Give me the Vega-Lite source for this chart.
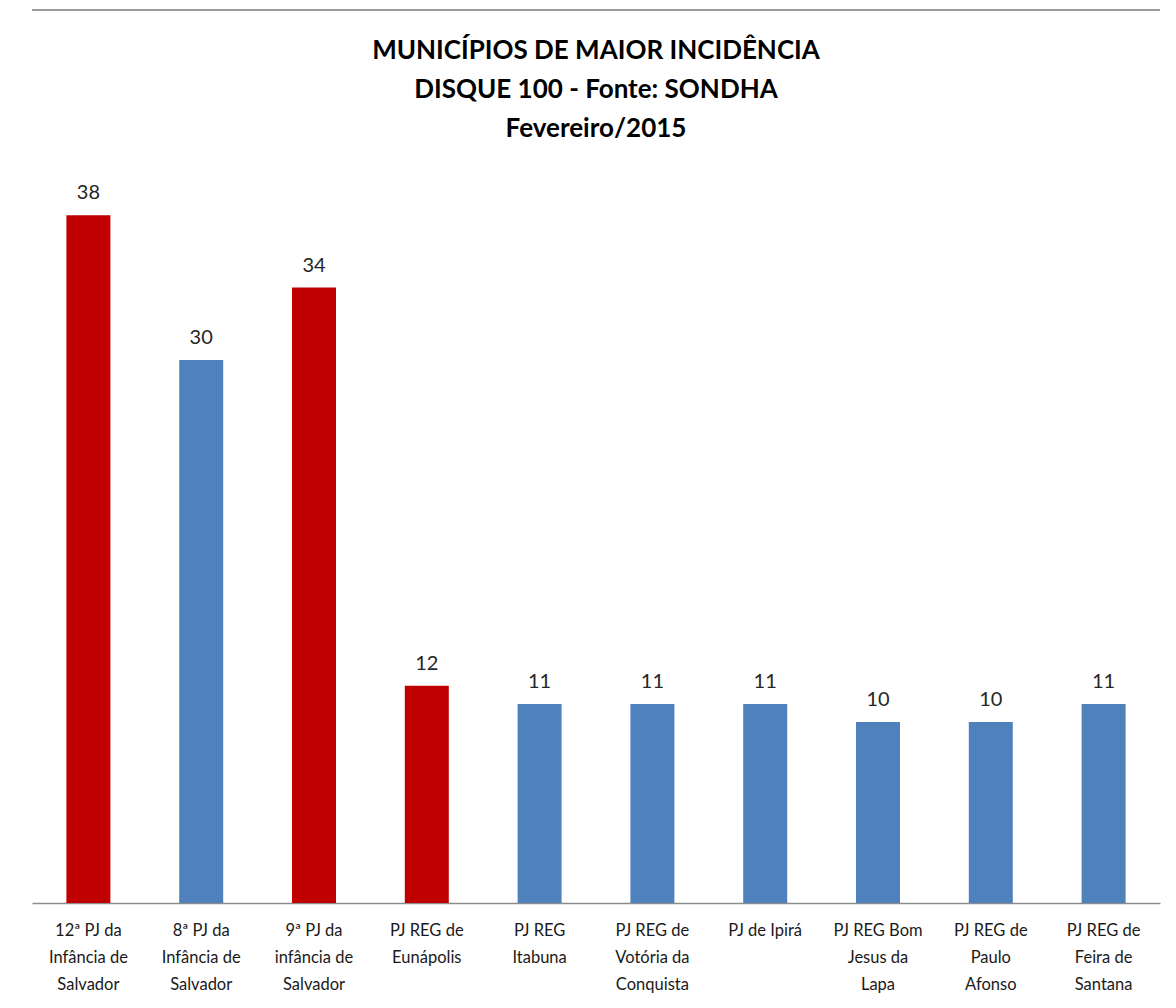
{
  "$schema": "https://vega.github.io/schema/vega-lite/v6.json",
  "autosize": "none",
  "width": 1128,
  "height": 724,
  "padding": {"left": 32, "top": 179, "right": 16, "bottom": 105},
  "background": "white",
  "title": {
    "text": ["MUNICÍPIOS DE MAIOR INCIDÊNCIA", "DISQUE 100 - Fonte: SONDHA", "Fevereiro/2015"],
    "font": "Lato",
    "fontSize": 26,
    "fontWeight": "bold",
    "color": "#000000",
    "lineHeight": 39,
    "anchor": "middle",
    "offset": -133
  },
  "config": {"view": {"stroke": null}},
  "data": {
    "values": [
      {"local": "12ª PJ da\nInfância de\nSalvador", "valor": 38, "destaque": "sim"},
      {"local": "8ª PJ da\nInfância de\nSalvador", "valor": 30, "destaque": "não"},
      {"local": "9ª PJ da\ninfância de\nSalvador", "valor": 34, "destaque": "sim"},
      {"local": "PJ REG de\nEunápolis", "valor": 12, "destaque": "sim"},
      {"local": "PJ REG\nItabuna", "valor": 11, "destaque": "não"},
      {"local": "PJ REG de\nVotória da\nConquista", "valor": 11, "destaque": "não"},
      {"local": "PJ de Ipirá", "valor": 11, "destaque": "não"},
      {"local": "PJ REG Bom\nJesus da\nLapa", "valor": 10, "destaque": "não"},
      {"local": "PJ REG de\nPaulo\nAfonso", "valor": 10, "destaque": "não"},
      {"local": "PJ REG de\nFeira de\nSantana", "valor": 11, "destaque": "não"}
    ]
  },
  "layer": [
    {
      "mark": {"type": "bar"},
      "encoding": {
        "x": {
          "field": "local",
          "type": "nominal",
          "sort": null,
          "scale": {"paddingInner": 0.61, "paddingOuter": 0.305},
          "axis": {
            "title": null,
            "labelAngle": 0,
            "labelExpr": "split(datum.value, '\\n')",
            "labelFont": "Lato",
            "labelFontSize": 16.5,
            "labelColor": "#1a1a1a",
            "labelLineHeight": 27,
            "labelPadding": 19,
            "labelBaseline": "top",
            "ticks": false,
            "domainColor": "#8c8c8c",
            "domainWidth": 1.5,
            "labelLimit": 200
          }
        },
        "y": {
          "field": "valor",
          "type": "quantitative",
          "scale": {"domain": [0, 40], "nice": false},
          "axis": null
        },
        "color": {
          "field": "destaque",
          "type": "nominal",
          "scale": {"domain": ["sim", "não"], "range": ["#C00000", "#4F81BD"]},
          "legend": null
        }
      }
    },
    {
      "mark": {"type": "text", "dy": -22, "font": "Lato", "fontSize": 20, "color": "#262626"},
      "encoding": {
        "x": {"field": "local", "type": "nominal", "sort": null},
        "y": {"field": "valor", "type": "quantitative"},
        "text": {"field": "valor", "type": "quantitative"}
      }
    },
    {
      "data": {"values": [{"borda": 49.34}]},
      "mark": {"type": "rule", "color": "#9a9a9a", "strokeWidth": 2, "clip": false},
      "encoding": {
        "y": {"field": "borda", "type": "quantitative"}
      }
    }
  ]
}
